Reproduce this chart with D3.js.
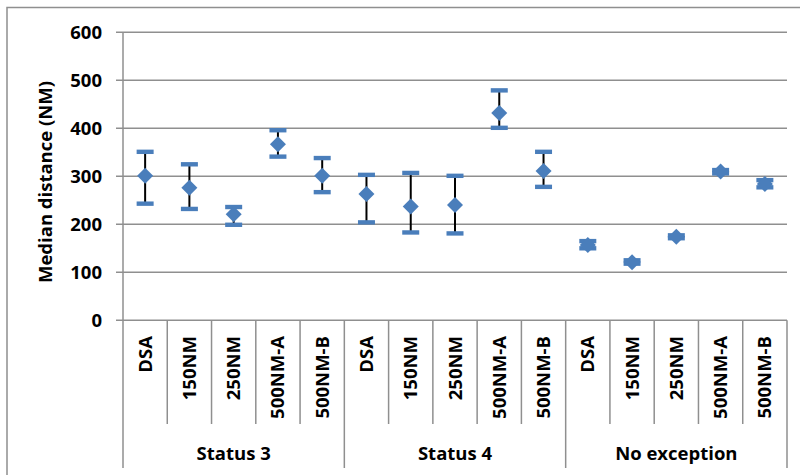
<!DOCTYPE html>
<html><head><meta charset="utf-8">
<script src="https://cdn.jsdelivr.net/npm/d3@7"></script>
<style>body{margin:0;background:#fff}svg{display:block}text{font-family:"Open Sans",Lato,sans-serif;font-weight:bold;fill:#000}</style>
</head><body><svg id="c" width="800" height="475"></svg>
<script>
const groups = ["Status 3", "Status 4", "No exception"];
const subcats = ["DSA", "150NM", "250NM", "500NM-A", "500NM-B"];
const medians = [301, 276, 221, 367, 301, 263, 237, 240, 432, 311, 157, 121, 174, 310, 284];
const highs   = [351, 325, 236, 396, 338, 303, 307, 301, 479, 351, 165, 125, 177, 313, 292];
const lows    = [243, 232, 199, 341, 267, 204, 183, 181, 401, 278, 150, 118, 171, 306, 277];
const yTicks = [0, 100, 200, 300, 400, 500, 600];
const yTitle = "Median distance (NM)";

const svg = d3.select("#c");
const L = 123, R = 787, T = 32.3, B = 320.3;
const keys = [];
groups.forEach((g, gi) => subcats.forEach((s, si) => keys.push(gi + "|" + s)));
const x = d3.scaleBand().domain(keys).range([L, R]);
const y = d3.scaleLinear().domain([0, 600]).range([B, T]);
const grey = "#8f8f8f";
const FS = 18.5;

// outer border
svg.append("rect").attr("x", 7).attr("y", 7.5).attr("width", 800).attr("height", 480)
  .attr("fill", "none").attr("stroke", grey).attr("stroke-width", 1.5);

// gridlines
svg.append("g").selectAll("line").data(yTicks).join("line")
  .attr("x1", L - 7).attr("x2", R).attr("y1", d => y(d)).attr("y2", d => y(d))
  .attr("stroke", grey).attr("stroke-width", 1.5);

// y axis
const yAxis = d3.axisLeft(y).tickValues(yTicks).tickSize(0).tickPadding(21);
const ya = svg.append("g").attr("transform", `translate(${L},0)`).call(yAxis);
ya.select(".domain").remove();
ya.selectAll("text").attr("font-size", FS).attr("font-family", "Open Sans").attr("font-weight", "bold").attr("fill", "#000");
svg.append("line").attr("x1", L).attr("x2", L).attr("y1", T).attr("y2", 468)
  .attr("stroke", grey).attr("stroke-width", 1.5);

// y title
svg.append("text").attr("transform", `translate(51.5,182) rotate(-90)`)
  .attr("text-anchor", "middle").attr("font-size", FS).text(yTitle);

// category separators
const bw = x.bandwidth();
keys.forEach((k, i) => {
  const xe = x(k) + bw;
  const major = (i + 1) % subcats.length === 0;
  svg.append("line").attr("x1", xe).attr("x2", xe).attr("y1", B).attr("y2", major ? 468 : 424)
    .attr("stroke", grey).attr("stroke-width", 1.5);
});

// subcategory labels
svg.append("g").selectAll("text").data(keys).join("text")
  .attr("transform", d => `translate(${x(d) + bw / 2 + 6.5},336) rotate(-90)`)
  .attr("text-anchor", "end").attr("font-size", FS)
  .text(d => d.split("|")[1]);

// group labels
svg.append("g").selectAll("text").data(groups).join("text")
  .attr("x", (d, gi) => (x(gi + "|" + subcats[0]) + x(gi + "|" + subcats[subcats.length - 1]) + bw) / 2)
  .attr("y", 460).attr("text-anchor", "middle").attr("font-size", FS)
  .text(d => d);

// error bars
const blue = "#4a7ebb";
const pts = keys.map((k, i) => ({k, m: medians[i], h: highs[i], l: lows[i]}));
const cx = d => x(d.k) + bw / 2;
svg.append("g").selectAll("line").data(pts).join("line")
  .attr("x1", cx).attr("x2", cx).attr("y1", d => y(d.h)).attr("y2", d => y(d.l))
  .attr("stroke", "#000").attr("stroke-width", 2);
["h", "l"].forEach(f => {
  svg.append("g").selectAll("rect").data(pts).join("rect")
    .attr("x", d => cx(d) - 8.5).attr("y", d => y(d[f]) - 2.2)
    .attr("width", 17).attr("height", 4.4).attr("fill", blue);
});
svg.append("g").selectAll("path").data(pts).join("path")
  .attr("d", d => { const X = cx(d), Y = y(d.m), r = 8; return `M${X},${Y - r}L${X + r},${Y}L${X},${Y + r}L${X - r},${Y}Z`; })
  .attr("fill", blue);
</script></body></html>
